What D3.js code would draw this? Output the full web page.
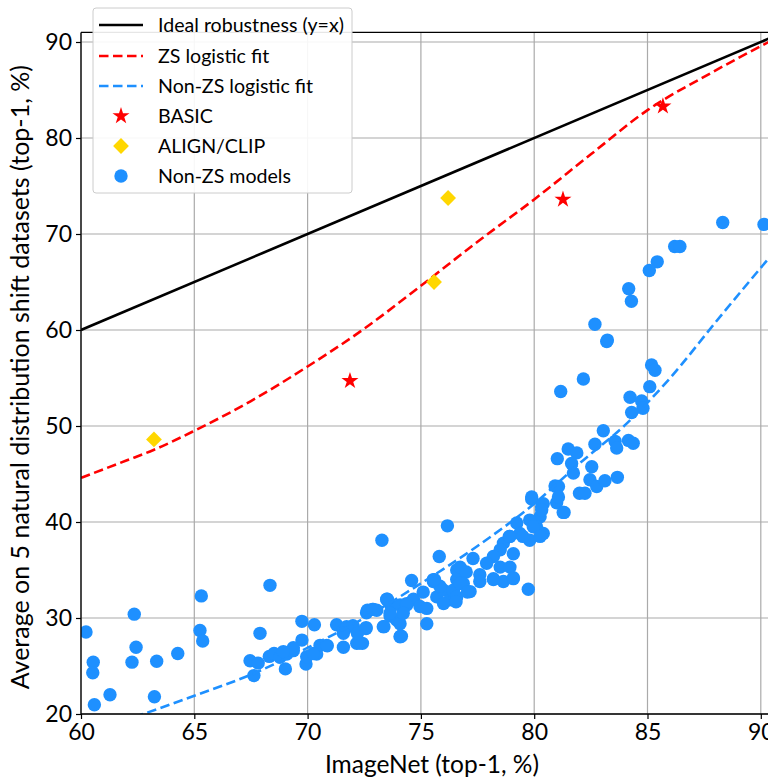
<!DOCTYPE html>
<html>
<head>
<meta charset="utf-8">
<script src="https://cdn.jsdelivr.net/npm/d3@7"></script>
<style>
  html, body { margin: 0; padding: 0; background: #fff; overflow: hidden; }
  svg { display: block; }
  text { font-family: Lato, "Open Sans", sans-serif; fill: #000; }
</style>
</head>
<body>
<svg id="chart" width="768" height="779"></svg>
<script>
// ImageNet accuracy vs. average accuracy on 5 natural distribution shift datasets
const xTicks = [60, 65, 70, 75, 80, 85, 90];
const yTicks = [20, 30, 40, 50, 60, 70, 80, 90];

// Ideal robustness line (y = x)
const idealX = [60, 91];
const idealY = [60, 91];

// Zero-shot logistic fit, sampled along the curve
const zsFitX = [60, 62, 63.2, 65, 67.5, 70, 72.3, 75, 77.5, 80, 82.5, 85, 87.9, 91];
const zsFitY = [44.6, 46.4, 47.5, 49.5, 52.6, 56.2, 59.8, 64.6, 69.2, 73.6, 78.3, 82.9, 86.9, 90.8];

// Non-zero-shot logistic fit, sampled along the curve
const nonZsFitX = [60, 62.75, 65, 67.6, 70, 72.5, 75, 77.5, 80, 82, 84.1, 86, 88, 91];
const nonZsFitY = [17.8, 20, 21.9, 24.2, 26.9, 30.0, 33.6, 37.5, 41.9, 46.1, 50.3, 55.0, 60.8, 69.3];

// BASIC models
const basicX = [71.87, 81.27, 85.68];
const basicY = [54.7, 73.6, 83.3];

// ALIGN / CLIP models
const alignX = [63.22, 75.58, 76.2];
const alignY = [48.6, 65.0, 73.75];

// Non-zero-shot models
const nonZsX = [
  60.22, 60.54, 60.52, 60.59, 61.28, 62.35, 62.25, 62.43, 63.24, 63.34, 64.27, 65.31, 65.25, 65.37,
  68.34, 67.9, 67.46, 67.82, 67.63, 68.31, 68.52, 68.78, 69.08, 69.37, 69.02, 69.75, 69.75, 70.3,
  69.93, 70.4, 70.55, 70.87, 71.28, 71.58, 71.58, 72.02, 72.17, 72.42, 72.58, 72.6, 72.86, 73.05,
  73.37, 73.52, 73.7, 74.08,
  73.28, 76.17, 75.81, 74.59, 71.72, 72.0, 71.58, 72.3, 72.2, 72.58, 72.64, 72.9, 73.34, 73.49,
  73.64, 73.93, 74.14, 74.08, 74.37, 74.67, 74.96, 75.26, 75.26, 75.55, 75.7, 76.0, 76.28, 76.5,
  76.58, 76.58, 70.84, 69.37, 68.93, 69.96, 70.25,
  79.74, 81.5, 81.88, 81.02, 81.65, 81.73, 80.92, 81.07, 79.89, 80.99, 81.32, 82.0, 80.33, 80.26,
  79.23, 79.8, 80.1, 80.4, 79.37, 78.93, 79.8, 78.64, 78.5, 79.08, 78.2, 77.3, 77.9, 78.5,
  78.93, 76.73, 77.0, 77.6, 78.2, 78.64, 79.08, 76.87, 77.17, 77.6, 75.55, 75.84, 76.43, 76.58,
  83.2, 82.17, 81.17, 85.18, 85.33, 85.1, 84.23, 84.74, 84.8, 84.3, 83.05, 82.68, 83.57, 84.16,
  84.37, 83.64, 82.54, 82.46, 82.76, 83.12, 83.67, 82.24, 79.89, 81.07,
  88.32, 90.14, 86.2, 86.43, 85.43, 85.08, 84.17, 84.29, 82.68, 83.23,
  80.4, 81.28, 80.33, 79.96, 80.26, 79.5, 78.9,
  73.5, 74.1, 74.08, 75.1, 75.6, 76.0, 76.55, 76.73, 77.05, 78.2, 79.08, 74.37, 74.22, 73.64
];
const nonZsY = [
  28.54, 25.4, 24.3, 20.97, 22.0, 30.4, 25.4, 26.95, 21.8, 25.5, 26.3, 32.3, 28.7, 27.6,
  33.4, 28.4, 25.55, 25.3, 24.0, 26.0, 26.3, 25.9, 26.25, 26.6, 24.7, 29.65, 27.7, 29.3,
  25.2, 26.25, 27.15, 27.1, 29.3, 28.7, 26.95, 29.1, 27.36, 27.36, 28.9, 30.55, 30.9, 30.8,
  29.1, 31.95, 31.2, 28.05,
  38.1, 39.6, 36.4, 33.9, 29.1, 29.2, 28.4, 27.4, 28.4, 29.0, 30.8, 30.9, 29.1, 31.95,
  30.2, 29.8, 28.1, 31.35, 31.5, 31.95, 31.2, 29.4, 31.0, 33.8, 32.2, 32.9, 31.9, 31.9,
  34.0, 35.0, 27.15, 26.9, 26.5, 25.97, 26.3,
  33.0, 47.6, 47.2, 46.6, 46.1, 45.1, 43.75, 43.7, 42.4, 42.0, 41.0, 43.0, 41.6, 40.55,
  39.9, 40.2, 39.5, 38.8, 38.8, 38.5, 38.1, 37.8, 37.1, 36.7, 36.4, 36.2, 35.7, 35.3,
  35.3, 35.3, 34.8, 34.5, 34.0, 33.8, 34.2, 33.6, 32.75, 33.8, 34.0, 33.3, 32.9, 32.2,
  58.8, 54.9, 53.6, 56.35, 55.8, 54.1, 53.0, 52.6, 51.85, 51.4, 49.5, 48.1, 48.4, 48.5,
  48.2, 47.7, 45.75, 44.4, 43.7, 44.3, 44.65, 43.0, 42.6, 42.6,
  71.2, 71.0, 68.7, 68.7, 67.1, 66.2, 64.3, 63.0, 60.6, 58.95,
  41.9, 41.0, 41.25, 39.5, 38.5, 38.5, 38.5,
  31.9, 28.1, 29.4, 32.7, 34.0, 31.5, 31.7, 33.6, 32.7, 34.1, 34.1, 31.35, 30.5, 30.5
];

const legendLabels = ["Ideal robustness (y=x)", "ZS logistic fit", "Non-ZS logistic fit",
                      "BASIC", "ALIGN/CLIP", "Non-ZS models"];

const BLUE = "#1e90ff", RED = "#ff0000", GOLD = "#ffd700";

const svg = d3.select("#chart");
const pLeft = 81, pTop = 32.4, pBottom = 714;
const x = d3.scaleLinear().domain([60, 91]).range([pLeft, pLeft + 31 * 22.66]);
const y = d3.scaleLinear().domain([20, 91]).range([pBottom, pBottom - 71 * 9.6]);
const pRight = x(91);

svg.append("defs").append("clipPath").attr("id", "plot-clip")
  .append("rect").attr("x", pLeft).attr("y", pTop).attr("width", pRight - pLeft).attr("height", pBottom - pTop);

// grid
const grid = svg.append("g").attr("stroke", "#aaaaaa").attr("stroke-width", 1.2);
grid.selectAll(".gx").data(xTicks).join("line")
  .attr("x1", d => x(d)).attr("x2", d => x(d)).attr("y1", pTop).attr("y2", pBottom);
grid.selectAll(".gy").data(yTicks).join("line")
  .attr("x1", pLeft).attr("x2", pRight).attr("y1", d => y(d)).attr("y2", d => y(d));

const plot = svg.append("g").attr("clip-path", "url(#plot-clip)");

// non-zero-shot models
plot.append("g").selectAll("circle").data(nonZsX.map((v, i) => [v, nonZsY[i]])).join("circle")
  .attr("cx", d => x(d[0])).attr("cy", d => y(d[1])).attr("r", 6.7).attr("fill", BLUE);

// fitted curves
const line = d3.line().x(d => x(d[0])).y(d => y(d[1])).curve(d3.curveMonotoneX);
plot.append("path").datum(idealX.map((v, i) => [v, idealY[i]]))
  .attr("d", line).attr("fill", "none").attr("stroke", "#000").attr("stroke-width", 2.6);
plot.append("path").datum(zsFitX.map((v, i) => [v, zsFitY[i]]))
  .attr("d", line).attr("fill", "none").attr("stroke", RED).attr("stroke-width", 2.6)
  .attr("stroke-dasharray", "9.5,4.5");
plot.append("path").datum(nonZsFitX.map((v, i) => [v, nonZsFitY[i]]))
  .attr("d", line).attr("fill", "none").attr("stroke", BLUE).attr("stroke-width", 2.6)
  .attr("stroke-dasharray", "9.5,4.5");

// zero-shot markers
const diamond = d3.symbol().type(d3.symbolSquare).size(125)();
const star = d3.symbol().type(d3.symbolStar).size(90)();
plot.append("g").selectAll("path").data(alignX.map((v, i) => [v, alignY[i]])).join("path")
  .attr("d", diamond).attr("fill", GOLD)
  .attr("transform", d => `translate(${x(d[0])},${y(d[1])}) rotate(45)`);
plot.append("g").selectAll("path").data(basicX.map((v, i) => [v, basicY[i]])).join("path")
  .attr("d", star).attr("fill", RED)
  .attr("transform", d => `translate(${x(d[0])},${y(d[1])})`);

// spines
const spines = svg.append("g").attr("stroke", "#000").attr("stroke-width", 1.3).attr("fill", "none");
spines.append("line").attr("x1", pLeft).attr("x2", pLeft).attr("y1", pTop).attr("y2", pBottom);
spines.append("line").attr("x1", pLeft).attr("x2", pRight).attr("y1", pBottom).attr("y2", pBottom);
spines.append("line").attr("x1", pLeft).attr("x2", pRight).attr("y1", pTop).attr("y2", pTop);
spines.append("line").attr("x1", pRight).attr("x2", pRight).attr("y1", pTop).attr("y2", pBottom);

// axes
const xAxis = d3.axisBottom(x).tickValues(xTicks).tickSize(5).tickPadding(5).tickFormat(d3.format("d"));
const yAxis = d3.axisLeft(y).tickValues(yTicks).tickSize(5).tickPadding(4).tickFormat(d3.format("d"));
const gx = svg.append("g").attr("transform", `translate(0,${pBottom})`).call(xAxis);
const gy = svg.append("g").attr("transform", `translate(${pLeft},0)`).call(yAxis);
[gx, gy].forEach(g => {
  g.select(".domain").remove();
  g.selectAll(".tick line").attr("stroke", "#000").attr("stroke-width", 1.2);
  g.selectAll(".tick text").attr("font-size", 23).attr("font-family", "Lato, sans-serif").attr("fill", "#000");
});

svg.append("text").attr("x", 432).attr("y", 773).attr("text-anchor", "middle")
  .attr("font-size", 24.5).text("ImageNet (top-1, %)");
svg.append("text").attr("transform", `translate(29,${(pTop + pBottom) / 2 + 4}) rotate(-90)`)
  .attr("text-anchor", "middle").attr("font-size", 25)
  .text("Average on 5 natural distribution shift datasets (top-1, %)");

// legend
const lg = svg.append("g");
lg.append("rect").attr("x", 93).attr("y", 8).attr("width", 259).attr("height", 185)
  .attr("rx", 3).attr("fill", "#fff").attr("fill-opacity", 0.9)
  .attr("stroke", "#cccccc").attr("stroke-width", 1);
const rowY = [25, 56, 86, 116, 146, 176];
const hx0 = 99, hx1 = 143, hc = 121;
lg.append("line").attr("x1", hx0).attr("x2", hx1).attr("y1", rowY[0]).attr("y2", rowY[0])
  .attr("stroke", "#000").attr("stroke-width", 2.6);
lg.append("line").attr("x1", hx0).attr("x2", hx1).attr("y1", rowY[1]).attr("y2", rowY[1])
  .attr("stroke", RED).attr("stroke-width", 2.6).attr("stroke-dasharray", "9.5,4.5");
lg.append("line").attr("x1", hx0).attr("x2", hx1).attr("y1", rowY[2]).attr("y2", rowY[2])
  .attr("stroke", BLUE).attr("stroke-width", 2.6).attr("stroke-dasharray", "9.5,4.5");
lg.append("path").attr("d", star).attr("fill", RED).attr("transform", `translate(${hc},${rowY[3]})`);
lg.append("path").attr("d", diamond).attr("fill", GOLD).attr("transform", `translate(${hc},${rowY[4]}) rotate(45)`);
lg.append("circle").attr("cx", hc).attr("cy", rowY[5]).attr("r", 6.7).attr("fill", BLUE);
lg.selectAll(".lt").data(legendLabels).join("text")
  .attr("x", 158).attr("y", (d, i) => rowY[i]).attr("dy", "0.35em")
  .attr("font-size", 19.6).text(d => d);
</script>
</body>
</html>
